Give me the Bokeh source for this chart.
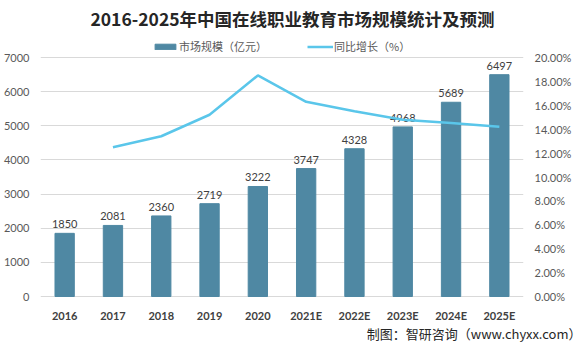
from bokeh.plotting import figure
from bokeh.models import (ColumnDataSource, Range1d, LinearAxis, NumeralTickFormatter,
                          FixedTicker, Legend, LegendItem, Label, Title)
from bokeh.embed import file_html
from bokeh.resources import INLINE

years = ["2016", "2017", "2018", "2019", "2020", "2021E", "2022E", "2023E", "2024E", "2025E"]
market = [1850, 2081, 2360, 2719, 3222, 3747, 4328, 4968, 5689, 6497]
growth_years = ["2017", "2018", "2019", "2020", "2021E", "2022E", "2023E", "2024E", "2025E"]
growth = [0.1249, 0.1341, 0.1521, 0.1850, 0.1629, 0.1551, 0.1479, 0.1451, 0.1420]
left_ticks = [0, 1000, 2000, 3000, 4000, 5000, 6000, 7000]
right_ticks = [0, 0.02, 0.04, 0.06, 0.08, 0.10, 0.12, 0.14, 0.16, 0.18, 0.20]

title_text = "2016-2025年中国在线职业教育市场规模统计及预测"
bar_name = "市场规模（亿元）"
line_name = "同比增长（%）"
footer = "制图：智研咨询（www.chyxx.com）"

BAR = "#4f88a3"
LINE = "#5ac6ea"
CJK = "Noto Sans CJK SC"
NUM = "Lato"

# the plotting frame spans from the canvas top down to the footer strip:
# 0 sits at 296px, the top tick at 57px, so the title, legend and category
# labels can all be placed inside the frame
FOOT = 23.0
FRAME_BOT = 345.0 - FOOT
AXIS_TOP_PX = 57.0
AXIS_BOT_PX = 296.0
AXIS_H = AXIS_BOT_PX - AXIS_TOP_PX
lt = left_ticks[-1]
rt = right_ticks[-1]
left_range = (-(FRAME_BOT - AXIS_BOT_PX) * lt / AXIS_H, AXIS_BOT_PX * lt / AXIS_H)
right_range = (-(FRAME_BOT - AXIS_BOT_PX) * rt / AXIS_H, AXIS_BOT_PX * rt / AXIS_H)

bar_src = ColumnDataSource(dict(x=years, top=market, lab=[str(v) for v in market],
                                base=[0] * len(years)))
line_src = ColumnDataSource(dict(x=growth_years, y=growth))

p = figure(width=574, height=345, x_range=years, y_range=Range1d(*left_range),
           output_backend="svg", toolbar_location=None, title_location=None,
           min_border_left=35, min_border_right=49, min_border_top=0,
           min_border_bottom=int(FOOT))
p.extra_y_ranges = {"pct": Range1d(*right_range)}

bars = p.vbar(x="x", top="top", bottom="base", width=0.4, source=bar_src, color=BAR)
p.text(x="x", y="top", text="lab", source=bar_src, text_align="center",
       text_baseline="bottom", y_offset=-5, text_font_size="11px", text_color="#404040",
       text_font={"value": NUM})
# category labels under the baseline
p.text(x="x", y="base", text="x", source=bar_src, text_align="center",
       text_baseline="middle", y_offset=19, text_font_size="11px", text_color="#404040",
       text_font_style="bold", text_font={"value": NUM})
ln = p.line(x="x", y="y", source=line_src, y_range_name="pct", color=LINE, line_width=2.5)

p.outline_line_color = None
p.background_fill_color = "white"
p.border_fill_color = "white"

p.yaxis.ticker = FixedTicker(ticks=left_ticks)
p.yaxis.axis_line_color = None
p.yaxis.major_tick_line_color = None
p.yaxis.minor_tick_line_color = None
p.yaxis.major_label_text_font_size = "11px"
p.yaxis.major_label_text_color = "#595959"
p.yaxis.major_label_text_font = NUM

ra = LinearAxis(y_range_name="pct", ticker=FixedTicker(ticks=right_ticks),
                formatter=NumeralTickFormatter(format="0.00%"))
ra.axis_line_color = None
ra.major_tick_line_color = None
ra.minor_tick_line_color = None
ra.major_label_text_font_size = "11px"
ra.major_label_text_color = "#595959"
ra.major_label_text_font = NUM
p.add_layout(ra, "right")

p.xaxis.visible = False
p.xgrid.grid_line_color = None
p.ygrid.grid_line_color = "#d9d9d9"
p.x_range.range_padding = 0

p.add_layout(Label(x=252, y=FRAME_BOT - 18, x_units="screen", y_units="screen",
                   text=title_text, text_align="center", text_baseline="middle",
                   text_font_size="17.5px", text_font_style="bold", text_color="#262626",
                   text_font=CJK))

ft = Title(text=footer, align="right", text_font=CJK, text_font_size="13px",
           text_color="#262626", text_font_style="normal", offset=-58, standoff=0,
           vertical_align="middle")
p.add_layout(ft, "below")

legend = Legend(items=[LegendItem(label=bar_name, renderers=[bars]),
                       LegendItem(label=line_name, renderers=[ln])],
                orientation="horizontal", location=(112, FRAME_BOT - 54),
                label_text_font_size="11px", label_text_color="#595959",
                label_text_font=CJK, glyph_width=26, glyph_height=7,
                spacing=40, padding=0, margin=0, border_line_color=None,
                background_fill_alpha=0, label_standoff=1, label_height=14)
p.add_layout(legend, "center")

open("out.html", "w").write(file_html(p, INLINE))
